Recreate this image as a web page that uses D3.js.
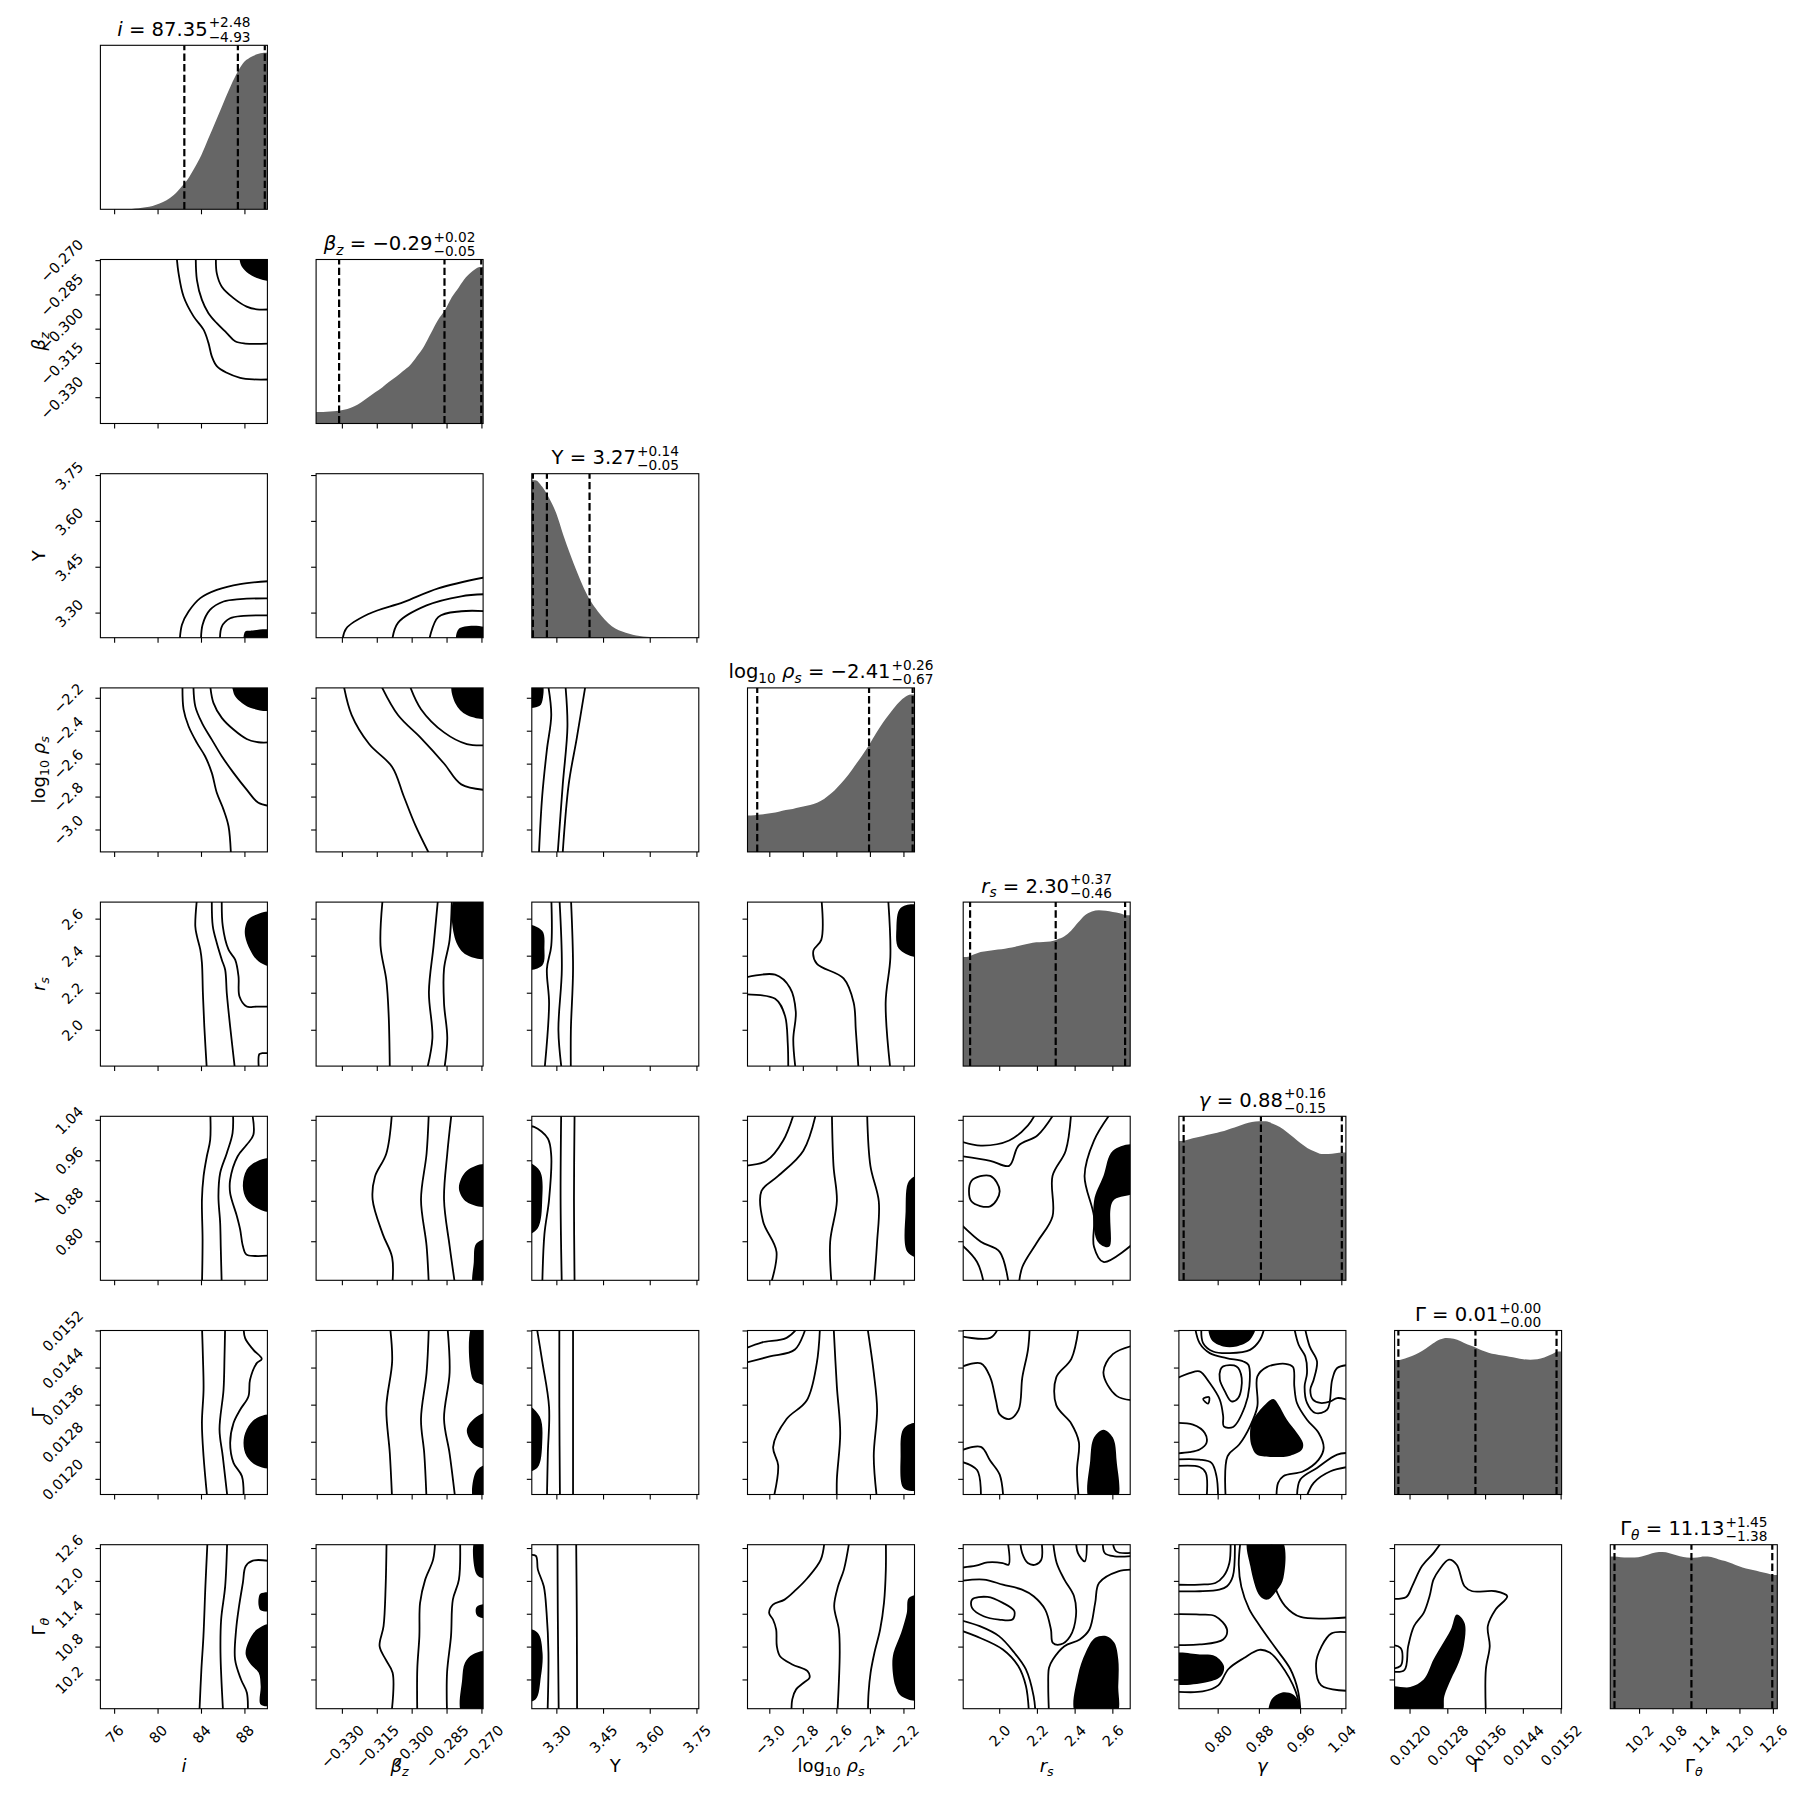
<!DOCTYPE html>
<html>
<head>
<meta charset="utf-8">
<script src="https://cdn.jsdelivr.net/npm/d3@7"></script>
<style>
body { margin: 0; background: #fff; }
svg text { font-family: "DejaVu Sans", sans-serif; fill: #000; }
</style>
</head>
<body>
<svg id="corner"></svg>
<script>
// parameter axes: plotted range, ticks, tick labels
const ranges = [[74.69, 90.07], [-0.3413, -0.2695], [3.2195, 3.756], [-3.133, -2.137],
                [1.8065, 2.692], [0.7238, 1.0479], [0.011673, 0.01521], [9.675, 12.67]];
const tickValues = [[76, 80, 84, 88], [-0.330, -0.315, -0.300, -0.285, -0.270], [3.30, 3.45, 3.60, 3.75],
                    [-3.0, -2.8, -2.6, -2.4, -2.2], [2.0, 2.2, 2.4, 2.6], [0.80, 0.88, 0.96, 1.04],
                    [0.0120, 0.0128, 0.0136, 0.0144, 0.0152], [10.2, 10.8, 11.4, 12.0, 12.6]];
const tickLabels = [["76", "80", "84", "88"], ["−0.330", "−0.315", "−0.300", "−0.285", "−0.270"],
                    ["3.30", "3.45", "3.60", "3.75"], ["−3.0", "−2.8", "−2.6", "−2.4", "−2.2"],
                    ["2.0", "2.2", "2.4", "2.6"], ["0.80", "0.88", "0.96", "1.04"],
                    ["0.0120", "0.0128", "0.0136", "0.0144", "0.0152"], ["10.2", "10.8", "11.4", "12.0", "12.6"]];

// labels as math pieces [text, style]
const axisLabels = [
  [["i", "it"]],
  [["β", "it"], ["z", "subit"]],
  [["Y", "rm"]],
  [["log", "rm"], ["10", "sub"], [" ", "rm"], ["ρ", "it"], ["s", "subit"]],
  [["r", "it"], ["s", "subit"]],
  [["γ", "it"]],
  [["Γ", "rm"]],
  [["Γ", "rm"], ["θ", "subit"]]
];
const titleValues = [" = 87.35", " = −0.29", " = 3.27", " = −2.41", " = 2.30", " = 0.88", " = 0.01", " = 11.13"];
const titlePlus = ["+2.48", "+0.02", "+0.14", "+0.26", "+0.37", "+0.16", "+0.00", "+1.45"];
const titleMinus = ["−4.93", "−0.05", "−0.05", "−0.67", "−0.46", "−0.15", "−0.00", "−1.38"];

// 16%, 50%, 84% quantiles (dashed lines)
const quantiles = [[82.42, 87.35, 89.83], [-0.3314, -0.2861, -0.2703], [3.223, 3.268, 3.405],
                   [-3.075, -2.408, -2.148], [1.843, 2.297, 2.665], [0.733, 0.883, 1.040],
                   [0.011753, 0.013385, 0.015103], [9.75, 11.13, 12.58]];

// 1D marginals, relative height per bin (24 bins across the plotted range)
const hist_i = [0, 0, 0, 0, 0.002, 0.006, 0.012, 0.02, 0.035, 0.055, 0.085, 0.13, 0.18, 0.25, 0.33, 0.43, 0.53, 0.63, 0.73, 0.82, 0.89, 0.925, 0.945, 0.955];
const hist_beta = [0.07, 0.072, 0.075, 0.08, 0.088, 0.105, 0.13, 0.16, 0.19, 0.22, 0.255, 0.285, 0.32, 0.355, 0.41, 0.47, 0.55, 0.63, 0.69, 0.77, 0.83, 0.89, 0.93, 0.955];
const hist_Y = [0.96, 0.92, 0.85, 0.76, 0.63, 0.51, 0.40, 0.30, 0.22, 0.16, 0.11, 0.07, 0.045, 0.03, 0.018, 0.01, 0.006, 0.003, 0.002, 0.001, 0, 0, 0, 0];
const hist_logrho = [0.222, 0.226, 0.231, 0.237, 0.245, 0.255, 0.262, 0.272, 0.282, 0.292, 0.31, 0.34, 0.375, 0.42, 0.47, 0.53, 0.59, 0.654, 0.725, 0.79, 0.847, 0.9, 0.94, 0.96];
const hist_rs = [0.665, 0.68, 0.695, 0.702, 0.708, 0.712, 0.72, 0.728, 0.738, 0.748, 0.755, 0.757, 0.76, 0.772, 0.79, 0.825, 0.875, 0.92, 0.943, 0.951, 0.948, 0.94, 0.932, 0.92];
const hist_gamma = [0.85, 0.86, 0.87, 0.88, 0.89, 0.90, 0.91, 0.925, 0.94, 0.955, 0.965, 0.97, 0.97, 0.955, 0.935, 0.905, 0.87, 0.835, 0.805, 0.785, 0.77, 0.77, 0.775, 0.78];
const hist_Gam = [0.82, 0.83, 0.845, 0.865, 0.89, 0.92, 0.945, 0.955, 0.95, 0.935, 0.915, 0.9, 0.88, 0.865, 0.855, 0.847, 0.84, 0.833, 0.825, 0.822, 0.825, 0.835, 0.853, 0.872];
const hist_Gtheta = [0.928, 0.924, 0.922, 0.922, 0.928, 0.94, 0.952, 0.955, 0.948, 0.935, 0.925, 0.92, 0.922, 0.928, 0.925, 0.912, 0.9, 0.885, 0.868, 0.855, 0.845, 0.835, 0.826, 0.815];

// 2D contours per row (y parameter), one entry per x parameter column, in data units
const contours_beta = [
  { lines: [
      [[81.7, -0.2675], [81.89, -0.2756], [82.35, -0.2857], [83.27, -0.2944], [84.19, -0.3002], [84.64, -0.306], [84.95, -0.3119], [85.41, -0.3162], [86.33, -0.3191], [87.56, -0.3213], [88.78, -0.322], [90.5, -0.322]],
      [[83.47, -0.2675], [83.58, -0.2785], [84.04, -0.2872], [84.64, -0.293], [85.41, -0.2974], [86.33, -0.3017], [87.1, -0.3053], [88.02, -0.3063], [90.5, -0.3063]],
      [[85.33, -0.2675], [85.41, -0.2756], [85.87, -0.2814], [86.95, -0.2864], [88.16, -0.2901], [89.09, -0.2913], [90.5, -0.2913]]],
    fills: [[[87.45, -0.2675], [87.5, -0.2695], [87.72, -0.2727], [88.32, -0.2756], [89.24, -0.2778], [90.5, -0.2785], [90.5, -0.2675]]] }
];
const contours_Y = [
  { lines: [
      [[81.98, 3.20], [82.2, 3.262], [82.81, 3.305], [83.89, 3.349], [85.41, 3.376], [87.56, 3.395], [90.5, 3.405]],
      [[83.95, 3.20], [84.1, 3.262], [84.8, 3.311], [86.03, 3.338], [87.56, 3.346], [90.5, 3.348]],
      [[85.7, 3.20], [85.87, 3.256], [86.64, 3.283], [87.87, 3.291], [90.5, 3.292]]],
    fills: [[[88.0, 3.20], [88.02, 3.24], [88.5, 3.2425], [90.5, 3.2425], [90.5, 3.20]]] },
  { lines: [
      [[-0.3301, 3.20], [-0.3284, 3.249], [-0.3185, 3.298], [-0.3037, 3.336], [-0.2888, 3.381], [-0.2675, 3.419]],
      [[-0.3088, 3.20], [-0.3061, 3.268], [-0.2938, 3.325], [-0.2789, 3.355], [-0.2675, 3.362]],
      [[-0.293, 3.20], [-0.2888, 3.287], [-0.2789, 3.306], [-0.2675, 3.306]]],
    fills: [[[-0.2805, 3.20], [-0.2799, 3.249], [-0.2675, 3.249], [-0.2675, 3.20]]] }
];
const contours_logrho = [
  { lines: [
      [[82.25, -2.11], [82.35, -2.268], [82.81, -2.37], [83.58, -2.471], [84.33, -2.552], [84.95, -2.653], [85.41, -2.774], [86.03, -2.876], [86.49, -2.977], [86.72, -3.16]],
      [[83.25, -2.11], [83.43, -2.249], [84.04, -2.349], [84.95, -2.451], [85.87, -2.552], [86.95, -2.653], [88.16, -2.755], [89.24, -2.835], [90.5, -2.856]],
      [[84.78, -2.11], [85.1, -2.228], [85.87, -2.319], [86.95, -2.39], [88.16, -2.447], [89.24, -2.467], [90.5, -2.467]]],
    fills: [[[86.85, -2.11], [86.89, -2.15], [87.1, -2.188], [87.72, -2.228], [88.78, -2.264], [90.5, -2.268], [90.5, -2.11]]] },
  { lines: [
      [[-0.3296, -2.11], [-0.326, -2.302], [-0.3185, -2.478], [-0.3086, -2.617], [-0.3037, -2.792], [-0.2987, -2.969], [-0.2921, -3.16]],
      [[-0.3138, -2.11], [-0.3061, -2.302], [-0.2962, -2.442], [-0.2863, -2.596], [-0.2789, -2.723], [-0.2675, -2.758]],
      [[-0.3014, -2.11], [-0.2962, -2.266], [-0.2863, -2.407], [-0.2765, -2.478], [-0.2675, -2.485]]],
    fills: [[[-0.2826, -2.11], [-0.2814, -2.232], [-0.2765, -2.302], [-0.2675, -2.316], [-0.2675, -2.11]]] },
  { lines: [
      [[3.271, -2.11], [3.282, -2.302], [3.268, -2.512], [3.253, -2.792], [3.242, -3.16]],
      [[3.327, -2.11], [3.334, -2.372], [3.319, -2.723], [3.302, -3.16]],
      [[3.393, -2.11], [3.364, -2.442], [3.338, -2.723], [3.318, -3.16]]],
    fills: [[[3.20, -2.11], [3.252, -2.11], [3.255, -2.2], [3.245, -2.246], [3.20, -2.25]]] }
];
const contours_rs = [
  { lines: [
      [[83.6, 2.72], [83.43, 2.562], [83.58, 2.508], [83.89, 2.435], [84.04, 2.364], [84.13, 2.2], [84.26, 2.02], [84.5, 1.78]],
      [[84.95, 2.72], [85.04, 2.562], [85.41, 2.471], [85.87, 2.381], [86.18, 2.327], [86.33, 2.2], [86.64, 2.02], [87.1, 1.78]],
      [[85.87, 2.72], [85.96, 2.562], [86.49, 2.435], [87.1, 2.381], [87.41, 2.291], [87.5, 2.182], [88.16, 2.128], [89.09, 2.128], [90.5, 2.128]],
      [[89.3, 1.78], [89.33, 1.871], [89.6, 1.876], [90.5, 1.876]]],
    fills: [[[90.5, 2.634], [89.09, 2.625], [88.32, 2.598], [88.02, 2.553], [88.02, 2.508], [88.47, 2.435], [89.24, 2.372], [90.5, 2.348]]] },
  { lines: [
      [[-0.3126, 2.72], [-0.3136, 2.456], [-0.3111, 2.27], [-0.3101, 2.082], [-0.3096, 1.78]],
      [[-0.2888, 2.72], [-0.2908, 2.456], [-0.2928, 2.207], [-0.2913, 1.957], [-0.2938, 1.78]],
      [[-0.2829, 2.72], [-0.2839, 2.488], [-0.2863, 2.332], [-0.2863, 2.145], [-0.2849, 1.957], [-0.2863, 1.78]]],
    fills: [[[-0.2814, 2.72], [-0.2814, 2.488], [-0.2765, 2.406], [-0.2675, 2.394], [-0.2675, 2.72]]] },
  { lines: [
      [[3.282, 2.72], [3.282, 2.456], [3.268, 2.332], [3.275, 2.145], [3.26, 1.78]],
      [[3.308, 2.72], [3.316, 2.332], [3.305, 2.0], [3.316, 1.78]],
      [[3.345, 2.72], [3.352, 2.332], [3.345, 2.0], [3.345, 1.78]]],
    fills: [[[3.20, 2.568], [3.253, 2.537], [3.26, 2.444], [3.253, 2.35], [3.20, 2.332]]] },
  { lines: [
      [[-3.16, 2.282], [-2.968, 2.30], [-2.88, 2.23], [-2.845, 2.10], [-2.86, 1.95], [-2.845, 1.78]],
      [[-3.16, 2.194], [-2.968, 2.17], [-2.91, 2.08], [-2.893, 1.93], [-2.89, 1.78]],
      [[-2.693, 2.72], [-2.693, 2.488], [-2.74, 2.43], [-2.72, 2.36], [-2.56, 2.28], [-2.5, 2.15], [-2.487, 2.0], [-2.47, 1.78]],
      [[-2.295, 2.72], [-2.281, 2.395], [-2.309, 2.15], [-2.28, 1.78]]],
    fills: [[[-2.11, 2.67], [-2.22, 2.66], [-2.245, 2.55], [-2.23, 2.44], [-2.11, 2.40]]] }
];
const contours_gamma = [
  { lines: [
      [[84.8, 1.06], [84.8, 1.0012], [84.49, 0.9685], [84.19, 0.9293], [84.04, 0.8833], [84.1, 0.8045], [84.04, 0.71]],
      [[86.89, 1.06], [86.86, 1.0145], [86.33, 0.975], [85.72, 0.9358], [85.56, 0.8897], [85.72, 0.8372], [85.78, 0.7847], [85.87, 0.71]],
      [[88.62, 1.06], [88.78, 1.0113], [88.16, 0.9915], [87.32, 0.9685], [86.64, 0.9225], [86.64, 0.8962], [87.26, 0.8505], [87.56, 0.8243], [87.81, 0.7915], [88.12, 0.775], [88.93, 0.7718], [90.5, 0.773]]],
    fills: [[[90.5, 0.9633], [89.09, 0.9588], [88.16, 0.9422], [87.81, 0.9095], [88.16, 0.8833], [89.09, 0.8667], [90.5, 0.8603]]] },
  { lines: [
      [[-0.3086, 1.06], [-0.3111, 0.9743], [-0.316, 0.9286], [-0.317, 0.8833], [-0.3126, 0.8146], [-0.3086, 0.7689], [-0.3086, 0.71]],
      [[-0.2928, 1.06], [-0.2938, 0.9743], [-0.2962, 0.8833], [-0.2938, 0.7919], [-0.2928, 0.71]],
      [[-0.2829, 1.06], [-0.2849, 0.9743], [-0.2863, 0.8833], [-0.2839, 0.7919], [-0.2814, 0.71]]],
    fills: [[[-0.2675, 0.9516], [-0.2765, 0.9403], [-0.2799, 0.9059], [-0.2765, 0.8784], [-0.2675, 0.8716]],
            [[-0.2675, 0.8032], [-0.2724, 0.7964], [-0.2735, 0.76], [-0.2735, 0.71], [-0.2675, 0.71]]] },
  { lines: [
      [[3.20, 1.028], [3.227, 1.0269], [3.271, 1.0041], [3.282, 0.9698], [3.275, 0.8833], [3.26, 0.8146], [3.253, 0.71]],
      [[3.314, 1.06], [3.312, 0.8833], [3.316, 0.71]],
      [[3.357, 1.06], [3.355, 0.8833], [3.357, 0.71]]],
    fills: [[[3.20, 0.9562], [3.245, 0.9403], [3.253, 0.8833], [3.238, 0.8262], [3.20, 0.8146]]] },
  { lines: [
      [[-3.16, 0.95], [-3.02, 0.96], [-2.92, 1.0], [-2.85, 1.06]],
      [[-3.0, 0.71], [-2.96, 0.78], [-3.04, 0.84], [-3.05, 0.9], [-2.95, 0.93], [-2.8, 0.98], [-2.72, 1.06]],
      [[-2.63, 1.06], [-2.62, 0.95], [-2.6, 0.88], [-2.64, 0.8], [-2.63, 0.71]],
      [[-2.42, 1.06], [-2.4, 0.95], [-2.35, 0.88], [-2.36, 0.8], [-2.38, 0.71]]],
    fills: [[[-2.11, 0.93], [-2.17, 0.92], [-2.19, 0.86], [-2.18, 0.78], [-2.11, 0.77]]] },
  { lines: [
      [[1.78, 1.0], [1.9, 0.99], [2.05, 1.0], [2.15, 1.03], [2.2, 1.06]],
      [[1.78, 0.97], [1.95, 0.96], [2.05, 0.95], [2.1, 0.99], [2.2, 1.01], [2.3, 1.06]],
      [[1.78, 0.84], [1.9, 0.8], [2.0, 0.78], [2.05, 0.71]],
      [[1.78, 0.80], [1.88, 0.76], [1.92, 0.71]],
      [[2.38, 1.06], [2.35, 0.98], [2.28, 0.93], [2.28, 0.85], [2.2, 0.80], [2.12, 0.75], [2.1, 0.71]],
      [[2.6, 1.06], [2.5, 1.0], [2.45, 0.93], [2.5, 0.85], [2.5, 0.79], [2.55, 0.76], [2.72, 0.8]]],
    loops: [[[1.85, 0.92], [1.95, 0.93], [2.0, 0.9], [1.95, 0.87], [1.85, 0.88]]],
    fills: [[[2.72, 0.99], [2.6, 0.98], [2.55, 0.93], [2.5, 0.88], [2.52, 0.8], [2.58, 0.79], [2.6, 0.88], [2.72, 0.9]]] }
];
const contours_Gam = [
  { lines: [
      [[84.04, 0.01533], [84.13, 0.014651], [84.19, 0.013933], [84.04, 0.013215], [84.19, 0.012497], [84.55, 0.01155]],
      [[86.18, 0.01533], [86.12, 0.014651], [86.03, 0.013933], [85.66, 0.013074], [85.96, 0.012497], [86.42, 0.01155]],
      [[87.87, 0.01533], [88.02, 0.015044], [88.78, 0.014793], [89.55, 0.014595], [89.09, 0.014506], [88.47, 0.014149], [88.32, 0.013788], [87.56, 0.013502], [86.95, 0.013215], [86.64, 0.012784], [86.95, 0.012356], [87.72, 0.012069], [87.87, 0.01155]]],
    fills: [[[90.5, 0.013374], [89.09, 0.013325], [88.16, 0.013074], [87.87, 0.012784], [88.16, 0.012497], [89.09, 0.012296], [90.5, 0.01226]]] },
  { lines: [
      [[-0.3096, 0.01533], [-0.3086, 0.014549], [-0.3111, 0.013555], [-0.3096, 0.012557], [-0.3086, 0.01155]],
      [[-0.2928, 0.01533], [-0.2938, 0.014301], [-0.2962, 0.013304], [-0.2948, 0.012557], [-0.2938, 0.01155]],
      [[-0.2849, 0.01533], [-0.2839, 0.014301], [-0.2863, 0.013304], [-0.2839, 0.012557], [-0.2814, 0.01155]]],
    fills: [[[-0.274, 0.01533], [-0.274, 0.01417], [-0.2715, 0.01407], [-0.2675, 0.01405], [-0.2675, 0.01533]],
            [[-0.2675, 0.013427], [-0.2735, 0.013304], [-0.2765, 0.013053], [-0.2735, 0.012755], [-0.2675, 0.01268]],
            [[-0.2675, 0.012309], [-0.2724, 0.012182], [-0.2735, 0.01155], [-0.2675, 0.01155]]] },
  { lines: [
      [[3.234, 0.01533], [3.253, 0.014549], [3.275, 0.013555], [3.271, 0.012557], [3.268, 0.01155]],
      [[3.308, 0.01533], [3.308, 0.013555], [3.31, 0.01155]],
      [[3.352, 0.01533], [3.352, 0.013555], [3.352, 0.01155]]],
    fills: [[[3.20, 0.013604], [3.245, 0.013353], [3.253, 0.012805], [3.238, 0.012257], [3.20, 0.012182]]] },
  { lines: [
      [[-3.16, 0.0148], [-3.05, 0.01495], [-2.9, 0.01505], [-2.82, 0.01533]],
      [[-3.16, 0.0145], [-3.0, 0.01465], [-2.85, 0.0148], [-2.78, 0.01533]],
      [[-2.98, 0.01155], [-2.95, 0.0123], [-2.98, 0.0127], [-2.9, 0.0133], [-2.78, 0.0137], [-2.72, 0.0145], [-2.7, 0.01533]],
      [[-2.62, 0.01533], [-2.6, 0.014], [-2.58, 0.013], [-2.6, 0.012], [-2.6, 0.01155]],
      [[-2.42, 0.01533], [-2.38, 0.0143], [-2.36, 0.0135], [-2.38, 0.0125], [-2.36, 0.01155]]],
    fills: [[[-2.11, 0.0132], [-2.2, 0.0131], [-2.22, 0.0125], [-2.2, 0.0118], [-2.11, 0.0118]]] },
  { lines: [
      [[1.78, 0.0151], [1.95, 0.01505], [2.0, 0.01533]],
      [[1.78, 0.0144], [1.9, 0.0145], [1.95, 0.0142], [1.98, 0.0137], [2.0, 0.0134], [2.05, 0.0133], [2.1, 0.0135], [2.12, 0.0142], [2.15, 0.0148], [2.16, 0.01533]],
      [[2.42, 0.01533], [2.38, 0.0146], [2.3, 0.0142], [2.3, 0.0136], [2.38, 0.0132], [2.42, 0.0128], [2.41, 0.0122], [2.42, 0.01155]],
      [[2.72, 0.0149], [2.6, 0.0147], [2.55, 0.0143], [2.62, 0.0138], [2.72, 0.0137]],
      [[1.78, 0.0126], [1.9, 0.0127], [1.95, 0.0124], [2.0, 0.0121], [2.02, 0.01155]],
      [[1.78, 0.0124], [1.88, 0.0122], [1.9, 0.01155]]],
    fills: [[[2.478, 0.01155], [2.48, 0.0124], [2.5, 0.0129], [2.55, 0.01307], [2.6, 0.0129], [2.62, 0.0124], [2.62, 0.01155]]] },
  { lines: [
      [[0.7675, 0.01533], [0.7708, 0.014938], [0.7902, 0.014757], [0.8227, 0.014722], [0.8619, 0.014793], [0.8813, 0.015009], [0.891, 0.01533]],
      [[0.71, 0.014128], [0.7445, 0.014291], [0.764, 0.01433], [0.7837, 0.014078], [0.8032, 0.013717], [0.8097, 0.01336], [0.811, 0.013144], [0.8291, 0.01313], [0.8521, 0.013576], [0.8606, 0.014004], [0.8586, 0.014471], [0.8489, 0.014542], [0.8162, 0.014616], [0.7837, 0.014722], [0.764, 0.014938], [0.7543, 0.01533]],
      [[0.9465, 0.01533], [0.9562, 0.014902], [0.9691, 0.01465], [0.9724, 0.014291], [0.9678, 0.014004], [0.9724, 0.013647], [0.9886, 0.013431], [1.0116, 0.013502], [1.0213, 0.014149], [1.031, 0.0144], [1.06, 0.014471]],
      [[0.9672, 0.01533], [0.9776, 0.014867], [0.9918, 0.014546], [0.9854, 0.014149], [0.9789, 0.013933], [0.984, 0.013718], [0.9983, 0.013647], [1.0181, 0.013682], [1.031, 0.013753], [1.06, 0.013682]],
      [[0.71, 0.013215], [0.7511, 0.01318], [0.774, 0.013], [0.7773, 0.012784], [0.764, 0.012642], [0.7445, 0.012585], [0.71, 0.012553]],
      [[0.71, 0.012426], [0.764, 0.012426], [0.787, 0.012356], [0.7967, 0.012069], [0.8, 0.01155]],
      [[0.71, 0.012281], [0.764, 0.012267], [0.776, 0.01214], [0.7773, 0.01155]],
      [[0.8149, 0.01155], [0.8181, 0.012497], [0.8408, 0.01275], [0.8619, 0.013144], [0.8761, 0.013576], [0.8761, 0.01422], [0.8943, 0.014421], [0.9302, 0.014492], [0.9452, 0.014421], [0.9478, 0.014004], [0.9529, 0.013647], [0.9724, 0.013286], [0.9951, 0.013], [1.0048, 0.012678], [0.9951, 0.012426], [0.9653, 0.012175], [0.9264, 0.012069], [0.9163, 0.011924], [0.9131, 0.01155]],
      [[0.9529, 0.01155], [0.9594, 0.011995], [0.9918, 0.012246], [1.031, 0.012533], [1.06, 0.012571]],
      [[0.9691, 0.01155], [0.9854, 0.011924], [1.0181, 0.012175], [1.06, 0.012281]]],
    loops: [[[0.8097, 0.014435], [0.8356, 0.014435], [0.8457, 0.014184], [0.8389, 0.013753], [0.8259, 0.013682], [0.813, 0.013898], [0.8032, 0.014149], [0.8045, 0.014365]],
            [[0.7708, 0.013732], [0.7824, 0.013774], [0.7805, 0.013632]]],
    fills: [[[0.9073, 0.013732], [0.8878, 0.013576], [0.8651, 0.013215], [0.8619, 0.012929], [0.8651, 0.012713], [0.8748, 0.012533], [0.9008, 0.012483], [0.94, 0.012511], [0.9627, 0.012642], [0.9646, 0.012784], [0.953, 0.013], [0.9335, 0.013286], [0.917, 0.013611]],
            [[0.7837, 0.01533], [0.787, 0.015009], [0.8097, 0.014867], [0.8356, 0.014867], [0.8619, 0.015009], [0.8716, 0.01533]]] }
];
const contours_Gtheta = [
  { lines: [
      [[84.56, 12.76], [84.36, 11.91], [84.18, 11.0], [83.99, 10.39], [83.8, 9.58]],
      [[86.37, 12.76], [86.18, 11.91], [85.81, 11.304], [85.75, 10.696], [86.0, 9.58]],
      [[90.5, 12.367], [88.73, 12.379], [88.07, 12.275], [87.81, 11.972], [87.46, 11.547], [87.19, 11.121], [87.09, 10.574], [87.64, 10.208], [88.18, 9.966], [88.26, 9.58]]],
    fills: [[[90.5, 11.78], [89.45, 11.777], [89.27, 11.7], [89.27, 11.55], [89.45, 11.472], [90.5, 11.472]],
            [[90.5, 11.212], [89.09, 11.121], [88.29, 10.879], [88.07, 10.666], [88.55, 10.483], [89.27, 10.331], [89.45, 10.088], [89.45, 9.753], [90.5, 9.753]]] },
  { lines: [
      [[-0.311, 12.76], [-0.3114, 11.91], [-0.3123, 11.181], [-0.314, 10.816], [-0.3114, 10.574], [-0.3084, 10.331], [-0.3089, 9.58]],
      [[-0.2901, 12.76], [-0.291, 12.397], [-0.2944, 12.032], [-0.2966, 11.607], [-0.2969, 11.0], [-0.2978, 10.391], [-0.2978, 9.58]],
      [[-0.2794, 12.76], [-0.2799, 12.032], [-0.2825, 11.667], [-0.2833, 11.0], [-0.285, 10.331], [-0.285, 9.58]]],
    fills: [[[-0.2729, 12.76], [-0.2726, 12.155], [-0.2705, 12.07], [-0.2675, 12.062], [-0.2675, 12.76]],
            [[-0.2675, 11.577], [-0.2722, 11.535], [-0.2726, 11.424], [-0.2714, 11.352], [-0.2675, 11.334]],
            [[-0.2675, 10.708], [-0.274, 10.666], [-0.2773, 10.514], [-0.2785, 10.208], [-0.2785, 9.58], [-0.2675, 9.58]]] },
  { lines: [
      [[3.20, 12.469], [3.232, 12.469], [3.239, 12.215], [3.258, 11.91], [3.267, 11.424], [3.273, 10.696], [3.27, 9.58]],
      [[3.302, 12.76], [3.303, 11.424], [3.306, 9.58]],
      [[3.362, 12.76], [3.364, 11.424], [3.365, 9.58]]],
    fills: [[[3.20, 11.121], [3.239, 11.059], [3.254, 10.696], [3.249, 10.271], [3.232, 9.846], [3.20, 9.816]]] },
  { lines: [
      [[-2.673, 12.76], [-2.696, 12.397], [-2.775, 12.062], [-2.843, 11.849], [-2.912, 11.667], [-2.981, 11.577], [-3.004, 11.424], [-2.981, 11.304], [-2.962, 11.121], [-2.958, 10.816], [-2.939, 10.634], [-2.866, 10.483], [-2.775, 10.361], [-2.763, 10.241], [-2.798, 10.148], [-2.843, 10.028], [-2.866, 9.846], [-2.871, 9.58]],
      [[-2.524, 12.76], [-2.558, 12.215], [-2.593, 11.91], [-2.616, 11.547], [-2.588, 11.121], [-2.583, 10.696], [-2.597, 9.58]],
      [[-2.308, 12.76], [-2.308, 12.215], [-2.319, 11.607], [-2.342, 11.121], [-2.376, 10.696], [-2.399, 10.331], [-2.411, 9.966], [-2.415, 9.58]]],
    fills: [[[-2.11, 11.73], [-2.171, 11.697], [-2.183, 11.424], [-2.217, 11.059], [-2.262, 10.696], [-2.269, 10.454], [-2.251, 10.088], [-2.217, 9.906], [-2.11, 9.846]]] },
  { lines: [
      [[1.78, 12.245], [1.874, 12.287], [1.935, 12.347], [2.016, 12.335], [2.047, 12.305], [2.041, 12.76]],
      [[2.108, 12.76], [2.119, 12.517], [2.149, 12.335], [2.19, 12.305], [2.221, 12.397], [2.221, 12.76]],
      [[2.404, 12.76], [2.415, 12.517], [2.451, 12.367], [2.462, 12.76]],
      [[2.547, 12.76], [2.557, 12.518], [2.608, 12.457], [2.72, 12.47]],
      [[2.598, 12.76], [2.618, 12.548], [2.72, 12.53]],
      [[1.78, 12.002], [1.9146, 12.032], [2.0167, 11.941], [2.1187, 11.85], [2.1799, 11.728], [2.2411, 11.485], [2.2717, 11.121], [2.2819, 10.878], [2.3227, 10.848], [2.3737, 10.999], [2.4043, 11.364], [2.3941, 11.728], [2.3431, 12.032], [2.3023, 12.336], [2.2819, 12.76]],
      [[1.78, 11.303], [1.8942, 11.182], [1.9962, 11.0], [2.0779, 10.696], [2.1391, 10.392], [2.1799, 9.906], [2.1901, 9.58]],
      [[1.78, 11.121], [1.8738, 11.0], [2.0167, 10.756], [2.0983, 10.453], [2.1391, 10.088], [2.1554, 9.58]],
      [[2.72, 12.214], [2.6287, 12.184], [2.5267, 11.971], [2.5063, 11.607], [2.4757, 11.121], [2.4247, 10.939], [2.3431, 10.817], [2.2819, 10.574], [2.2615, 10.422], [2.2574, 10.088], [2.2615, 9.58]]],
    loops: [[[1.8534, 11.668], [1.935, 11.716], [2.0167, 11.607], [2.0779, 11.455], [2.0677, 11.303], [1.9962, 11.303], [1.9146, 11.364], [1.8534, 11.516]]],
    fills: [[[2.4043, 9.58], [2.4145, 10.27], [2.4553, 10.696], [2.5063, 10.969], [2.5675, 10.999], [2.6083, 10.878], [2.6287, 10.574], [2.6287, 10.088], [2.6185, 9.58]]] },
  { lines: [
      [[0.71, 11.94], [0.7645, 11.941], [0.7946, 11.971], [0.8104, 12.093], [0.8217, 12.336], [0.824, 12.76]],
      [[0.71, 11.82], [0.7645, 11.82], [0.8022, 11.85], [0.8172, 11.911], [0.8285, 12.093], [0.8323, 12.76]],
      [[0.71, 11.40], [0.7645, 11.394], [0.7946, 11.364], [0.8172, 11.121], [0.8097, 10.939], [0.7645, 10.848], [0.71, 10.84]],
      [[0.8436, 12.76], [0.84, 12.3], [0.845, 11.9], [0.86, 11.5], [0.88, 11.2], [0.91, 10.8], [0.94, 10.4], [0.955, 10.0], [0.96, 9.58]],
      [[0.905, 12.76], [0.9, 12.3], [0.91, 11.9], [0.93, 11.55], [0.96, 11.35], [1.06, 11.35]],
      [[0.71, 9.99], [0.77, 9.99], [0.8, 10.1], [0.82, 10.4], [0.85, 10.6], [0.88, 10.75], [0.9, 10.7], [0.92, 10.5], [0.95, 10.0], [0.96, 9.58]],
      [[1.06, 11.06], [1.02, 11.05], [1.0, 10.8], [0.99, 10.5], [1.0, 10.1], [1.06, 10.0]]],
    fills: [[[0.8587, 12.76], [0.8625, 12.275], [0.8813, 11.728], [0.8964, 11.668], [0.9152, 11.85], [0.9266, 12.062], [0.9228, 12.76]],
            [[0.71, 10.66], [0.7645, 10.665], [0.7946, 10.635], [0.8112, 10.453], [0.806, 10.27], [0.7796, 10.161], [0.71, 10.16]],
            [[0.8998, 9.58], [0.9036, 9.845], [0.9228, 9.967], [0.9454, 9.936], [0.9567, 9.784], [0.9589, 9.58]]] },
  { lines: [
      [[0.01155, 11.685], [0.011921, 11.717], [0.012044, 11.91], [0.01225, 12.275], [0.012497, 12.517], [0.012702, 12.76]],
      [[0.01155, 10.361], [0.011879, 10.38], [0.011961, 10.817], [0.012084, 11.182], [0.01229, 11.425], [0.012413, 11.728], [0.012496, 12.032], [0.012619, 12.214], [0.012825, 12.397], [0.012989, 12.305], [0.013154, 11.911], [0.013318, 11.82], [0.013812, 11.82], [0.014058, 11.728], [0.013812, 11.485], [0.013647, 11.182], [0.013688, 10.817], [0.013606, 10.392], [0.013606, 9.58]]],
    loops: [[[0.01155, 10.816], [0.011797, 10.786], [0.011839, 10.574], [0.011797, 10.454], [0.01155, 10.42]]],
    fills: [[[0.01155, 10.058], [0.012002, 10.07], [0.012288, 10.208], [0.012497, 10.574], [0.01266, 10.816], [0.012865, 11.121], [0.012989, 11.394], [0.013155, 11.241], [0.013137, 10.816], [0.013031, 10.514], [0.012865, 10.208], [0.012727, 9.906], [0.01266, 9.58], [0.01155, 9.58]]] }
];

const hists = [hist_i, hist_beta, hist_Y, hist_logrho, hist_rs, hist_gamma, hist_Gam, hist_Gtheta];
const rowContours = [null, contours_beta, contours_Y, contours_logrho, contours_rs, contours_gamma, contours_Gam, contours_Gtheta];

// layout
const LEFT = 100.4, TOP = 45.3, DX = 215.7, DY = 214.2, W = 167, H = 164;
const N = ranges.length;
const FS_TICK = 14.5, FS_LABEL = 18, FS_TITLE = 19.6, FS_SCRIPT = 13.7;

let svg = d3.select("svg#corner").attr("width", 1809).attr("height", 1809).style("background", "#fff");

const xScales = ranges.map(r => d3.scaleLinear().domain(r).range([0, W]));
const yScales = ranges.map(r => d3.scaleLinear().domain(r).range([H, 0]));

function addMath(textSel, pieces, size) {
  let shift = 0;
  pieces.forEach(([t, s]) => {
    const isSub = s.startsWith("sub");
    const target = isSub ? size * 0.24 : 0;
    textSel.append("tspan").text(t)
      .attr("font-size", isSub ? size * 0.7 : size)
      .attr("font-style", s.endsWith("it") ? "italic" : "normal")
      .attr("dy", target - shift);
    shift = target;
  });
}

function rotatedLabel(g, txt, anchorX, anchorY, side) {
  const t = g.append("text").attr("font-size", FS_TICK).attr("text-anchor", "middle").attr("dy", "0.36em").text(txt);
  const w = t.node().getComputedTextLength();
  const half = (w + 0.73 * FS_TICK) / (2 * Math.SQRT2);
  let cx = anchorX, cy = anchorY;
  if (side === "bottom") cy = anchorY + 15 + half;
  else cx = anchorX - 16 - half;
  t.attr("x", cx).attr("y", cy).attr("transform", `rotate(-45,${cx},${cy})`);
}

function drawTitle(g, k) {
  const tg = g.append("g");
  const main = tg.append("text").attr("x", 0).attr("y", 0).attr("font-size", FS_TITLE);
  addMath(main, axisLabels[k].concat([[titleValues[k], "rm"]]), FS_TITLE);
  const w = main.node().getComputedTextLength();
  const sup = tg.append("text").attr("x", w + 1).attr("y", -8.5).attr("font-size", FS_SCRIPT).text(titlePlus[k]);
  const sub = tg.append("text").attr("x", w + 1).attr("y", 5.8).attr("font-size", FS_SCRIPT).text(titleMinus[k]);
  const tw = w + 1 + Math.max(sup.node().getComputedTextLength(), sub.node().getComputedTextLength());
  tg.attr("transform", `translate(${W / 2 - tw / 2},-9.5)`);
}

function drawContours(g, data, xs, ys) {
  const open = d3.line().x(d => xs(d[0])).y(d => ys(d[1])).curve(d3.curveCatmullRom.alpha(0.5));
  const closed = d3.line().x(d => xs(d[0])).y(d => ys(d[1])).curve(d3.curveCatmullRomClosed.alpha(0.5));
  g.selectAll(".cfill").data(data.fills || []).join("path").attr("class", "cfill")
    .attr("d", closed).attr("fill", "#000");
  g.selectAll(".cline").data(data.lines || []).join("path").attr("class", "cline")
    .attr("d", open).attr("fill", "none").attr("stroke", "#000").attr("stroke-width", 1.8);
  g.selectAll(".cloop").data(data.loops || []).join("path").attr("class", "cloop")
    .attr("d", closed).attr("fill", "none").attr("stroke", "#000").attr("stroke-width", 1.8);
}

function drawHist(g, c) {
  const xs = xScales[c];
  const vals = hists[c];
  const [lo, hi] = ranges[c];
  const step = (hi - lo) / vals.length;
  const pts = vals.map((v, k) => [lo + (k + 0.5) * step, v]);
  pts.unshift([lo, vals[0]]);
  pts.push([hi, vals[vals.length - 1]]);
  const hy = d3.scaleLinear().domain([0, 1]).range([H, 0]);
  const area = d3.area().x(d => xs(d[0])).y0(H).y1(d => hy(d[1])).curve(d3.curveMonotoneX);
  g.append("path").datum(pts).attr("d", area).attr("fill", "#666666");
  g.selectAll(".q").data(quantiles[c]).join("line").attr("class", "q")
    .attr("x1", d => xs(d)).attr("x2", d => xs(d)).attr("y1", H).attr("y2", 0)
    .attr("stroke", "#000").attr("stroke-width", 2.2).attr("stroke-dasharray", "7.4,3.2");
}

for (let r = 0; r < N; r++) {
  for (let c = 0; c <= r; c++) {
    const g = svg.append("g").attr("transform", `translate(${LEFT + c * DX},${TOP + r * DY})`);
    const clipId = `clip-${r}-${c}`;
    g.append("clipPath").attr("id", clipId).append("rect").attr("width", W).attr("height", H);
    const inner = g.append("g").attr("clip-path", `url(#${clipId})`);

    if (r === c) {
      drawHist(inner, c);
      drawTitle(g, c);
    } else {
      drawContours(inner, rowContours[r][c], xScales[c], yScales[r]);
    }

    // frame
    g.append("rect").attr("width", W).attr("height", H).attr("fill", "none").attr("stroke", "#000").attr("stroke-width", 1.1);

    // x ticks
    tickValues[c].forEach((t, k) => {
      const x = xScales[c](t);
      g.append("line").attr("x1", x).attr("x2", x).attr("y1", H).attr("y2", H + 5).attr("stroke", "#000").attr("stroke-width", 1.1);
      if (r === N - 1) rotatedLabel(g, tickLabels[c][k], x, H, "bottom");
    });
    // y ticks
    if (r !== c) {
      tickValues[r].forEach((t, k) => {
        const y = yScales[r](t);
        g.append("line").attr("x1", -5).attr("x2", 0).attr("y1", y).attr("y2", y).attr("stroke", "#000").attr("stroke-width", 1.1);
        if (c === 0) rotatedLabel(g, tickLabels[r][k], 0, y, "left");
      });
    }
    // axis labels
    if (r === N - 1) {
      const t = g.append("text").attr("x", W / 2).attr("y", H + 63).attr("text-anchor", "middle").attr("font-size", FS_LABEL);
      addMath(t, axisLabels[c], FS_LABEL);
    }
    if (c === 0 && r > 0) {
      const t = g.append("text").attr("text-anchor", "middle").attr("font-size", FS_LABEL)
        .attr("transform", `translate(-55.4,${H / 2}) rotate(-90)`);
      addMath(t, axisLabels[r], FS_LABEL);
    }
  }
}
</script>
</body>
</html>
